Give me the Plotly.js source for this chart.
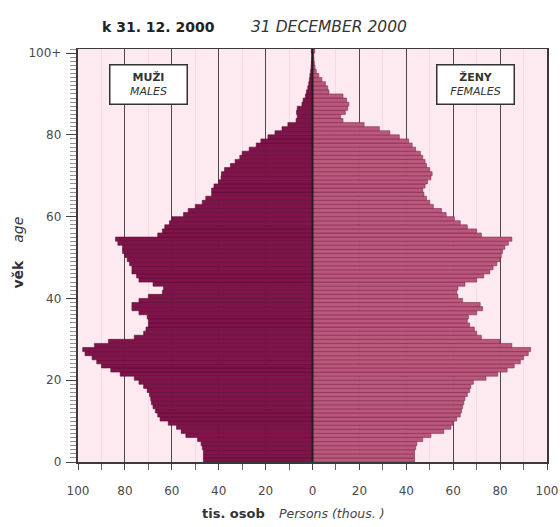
<!DOCTYPE html>
<html>
<head>
<meta charset="utf-8">
<script src="https://cdn.plot.ly/plotly-3.0.1.min.js"></script>
<style>
  html, body { margin: 0; padding: 0; background: #ffffff; }
  #chart { width: 560px; height: 527px; }
</style>
</head>
<body>
<div id="chart"></div>
<script>
// Age (single years, top class = 100+)
const ages = [
  0,1,2,3,4,5,6,7,8,9,
  10,11,12,13,14,15,16,17,18,19,
  20,21,22,23,24,25,26,27,28,29,
  30,31,32,33,34,35,36,37,38,39,
  40,41,42,43,44,45,46,47,48,49,
  50,51,52,53,54,55,56,57,58,59,
  60,61,62,63,64,65,66,67,68,69,
  70,71,72,73,74,75,76,77,78,79,
  80,81,82,83,84,85,86,87,88,89,
  90,91,92,93,94,95,96,97,98,99,
  100
];

// Males (thousands)
const males = [
  46.5, 46.5, 46.5, 47, 47.5, 49, 54, 56, 58, 61.5,
  65, 66, 67, 68, 68.7, 69, 69.5, 70.5, 72, 74,
  76, 82, 86, 90, 92, 94, 97, 98, 93, 87,
  76, 72, 71, 70, 70, 70.5, 74, 77, 77, 74,
  70, 64, 63.5, 68, 74, 75, 77, 77, 78, 79,
  80, 81, 81, 83, 84, 66, 64, 63, 61, 60,
  55, 53, 50, 47, 45.5, 43, 43, 42, 40, 39,
  38.8, 37.5, 35, 33, 31, 30, 27, 24, 22, 19,
  16, 13, 10.5, 7, 6.5, 6.8, 6.5, 4.5, 4, 3,
  2.6, 2, 1.6, 1.3, 1.1, 0.8, 0.6, 0.5, 0.4, 0.3,
  0.5
];

// Females (thousands)
const females = [
  43.5, 43.5, 43.5, 44, 44.5, 47, 50.5, 56, 59, 60,
  61.5, 63, 63.5, 64, 64.5, 65, 66, 67, 67.5, 68.6,
  74, 79, 83, 86, 88.6, 90, 92, 93, 85, 80,
  72, 70, 69, 67, 66, 66.5, 70, 72.5, 71.5, 64,
  62, 61.5, 62, 65, 70, 73, 75.6, 77, 78.6, 80,
  80.5, 81, 82, 83.5, 85, 72, 70, 66, 63, 60.5,
  57, 55, 51.5, 50, 48.6, 47.5, 47, 48, 49, 50.5,
  51, 50, 48.6, 48, 47, 46, 44, 42.5, 41, 37,
  33, 28.5, 22, 13, 12, 14, 15, 15.5, 14.5, 13,
  7, 6.5, 5.5, 4, 2.7, 1.6, 1.1, 0.8, 0.6, 0.5,
  0.9
];

const xTickVals = [-100,-80,-60,-40,-20,0,20,40,60,80,100];
const xTickText = ['100','80','60','40','20','0','20','40','60','80','100'];
const yTickVals = [0,20,40,60,80,100];
const yTickText = ['0','20','40','60','80','100+'];

const FONT = 'DejaVu Sans, Verdana, sans-serif';

const traces = [
  {
    type: 'bar', orientation: 'h', name: 'MALES',
    y: ages, x: males.map(v => -v),
    width: 1, offset: 0,
    marker: { color: '#80144a', line: { color: '#5a0b32', width: 0.6 } },
    hoverinfo: 'skip'
  },
  {
    type: 'bar', orientation: 'h', name: 'FEMALES',
    y: ages, x: females,
    width: 1, offset: 0,
    marker: { color: '#bd587d', line: { color: '#7a2a4b', width: 0.6 } },
    hoverinfo: 'skip'
  }
];

const layout = {
  width: 560, height: 527,
  margin: { l: 78, r: 13, t: 49, b: 65 },
  paper_bgcolor: '#ffffff',
  plot_bgcolor: '#fde9f0',
  barmode: 'overlay',
  bargap: 0,
  showlegend: false,
  font: { family: FONT, size: 12, color: '#333333' },
  xaxis: {
    range: [-100, 100],
    tickmode: 'array', tickvals: xTickVals, ticktext: xTickText,
    ticks: 'outside', ticklen: 6, tickcolor: '#444', tickwidth: 1,
    ticklabelstandoff: 11,
    showgrid: true, gridcolor: '#4a4a4a', gridwidth: 1,
    minor: { tickmode: 'linear', tick0: 0, dtick: 10, ticks: 'outside', ticklen: 6,
             tickcolor: '#666', showgrid: true, gridcolor: '#f5d9e4', gridwidth: 1 },
    zeroline: false,
    showline: true, linecolor: '#3a3a3a', linewidth: 1.5, mirror: true,
    tickfont: { family: FONT, size: 12, color: '#4a4a4a' },
    fixedrange: true
  },
  yaxis: {
    range: [0, 101],
    tickmode: 'array', tickvals: yTickVals, ticktext: yTickText,
    ticks: 'outside', ticklen: 10, tickcolor: '#444', tickwidth: 1,
    ticklabelstandoff: 2,
    minor: { tickmode: 'linear', tick0: 0, dtick: 1, ticks: 'outside', ticklen: 6,
             tickcolor: '#777', tickwidth: 0.8, showgrid: false },
    showgrid: false, zeroline: false,
    showline: true, linecolor: '#3a3a3a', linewidth: 2.2, mirror: true,
    tickfont: { family: FONT, size: 12, color: '#4a4a4a' },
    fixedrange: true
  },
  shapes: [
    { type: 'line', xref: 'x', yref: 'paper', x0: 0, x1: 0, y0: 0, y1: 1,
      line: { color: '#2a1a20', width: 2 }, layer: 'above' }
  ],
  annotations: [
    { xref: 'paper', yref: 'paper', x: 0.047, y: 1.053, xanchor: 'left', yanchor: 'middle',
      text: '<b>k 31. 12. 2000</b>', showarrow: false,
      font: { family: FONT, size: 14, color: '#222' } },
    { xref: 'paper', yref: 'paper', x: 0.365, y: 1.053, xanchor: 'left', yanchor: 'middle',
      text: '<i>31 DECEMBER 2000</i>', showarrow: false,
      font: { family: FONT, size: 15.5, color: '#333' } },
    { xref: 'paper', yref: 'paper', x: 0.261, y: -0.124, xanchor: 'left', yanchor: 'middle',
      text: '<b>tis. osob</b>', showarrow: false,
      font: { family: FONT, size: 13, color: '#333' } },
    { xref: 'paper', yref: 'paper', x: 0.424, y: -0.124, xanchor: 'left', yanchor: 'middle',
      text: '<i>Persons (thous. )</i>', showarrow: false,
      font: { family: FONT, size: 12.5, color: '#444' } },
    { xref: 'paper', yref: 'paper', x: -0.128, y: 0.507, xanchor: 'center', yanchor: 'middle',
      text: '<b>věk</b>    <i>age</i>', textangle: -90, showarrow: false,
      font: { family: FONT, size: 14, color: '#333' } },
    { xref: 'paper', yref: 'paper', x: 0.150, y: 0.913, xanchor: 'center', yanchor: 'middle',
      text: '<b>MUŽI</b><br><i>MALES</i>', showarrow: false,
      bgcolor: '#ffffff', bordercolor: '#333', borderwidth: 1.5, borderpad: 2,
      width: 72, height: 34, align: 'center',
      font: { family: FONT, size: 11, color: '#333' } },
    { xref: 'paper', yref: 'paper', x: 0.848, y: 0.913, xanchor: 'center', yanchor: 'middle',
      text: '<b>ŽENY</b><br><i>FEMALES</i>', showarrow: false,
      bgcolor: '#ffffff', bordercolor: '#333', borderwidth: 1.5, borderpad: 2,
      width: 72, height: 34, align: 'center',
      font: { family: FONT, size: 11, color: '#333' } }
  ]
};

Plotly.newPlot('chart', traces, layout, { displayModeBar: false, staticPlot: true });
</script>
</body>
</html>
